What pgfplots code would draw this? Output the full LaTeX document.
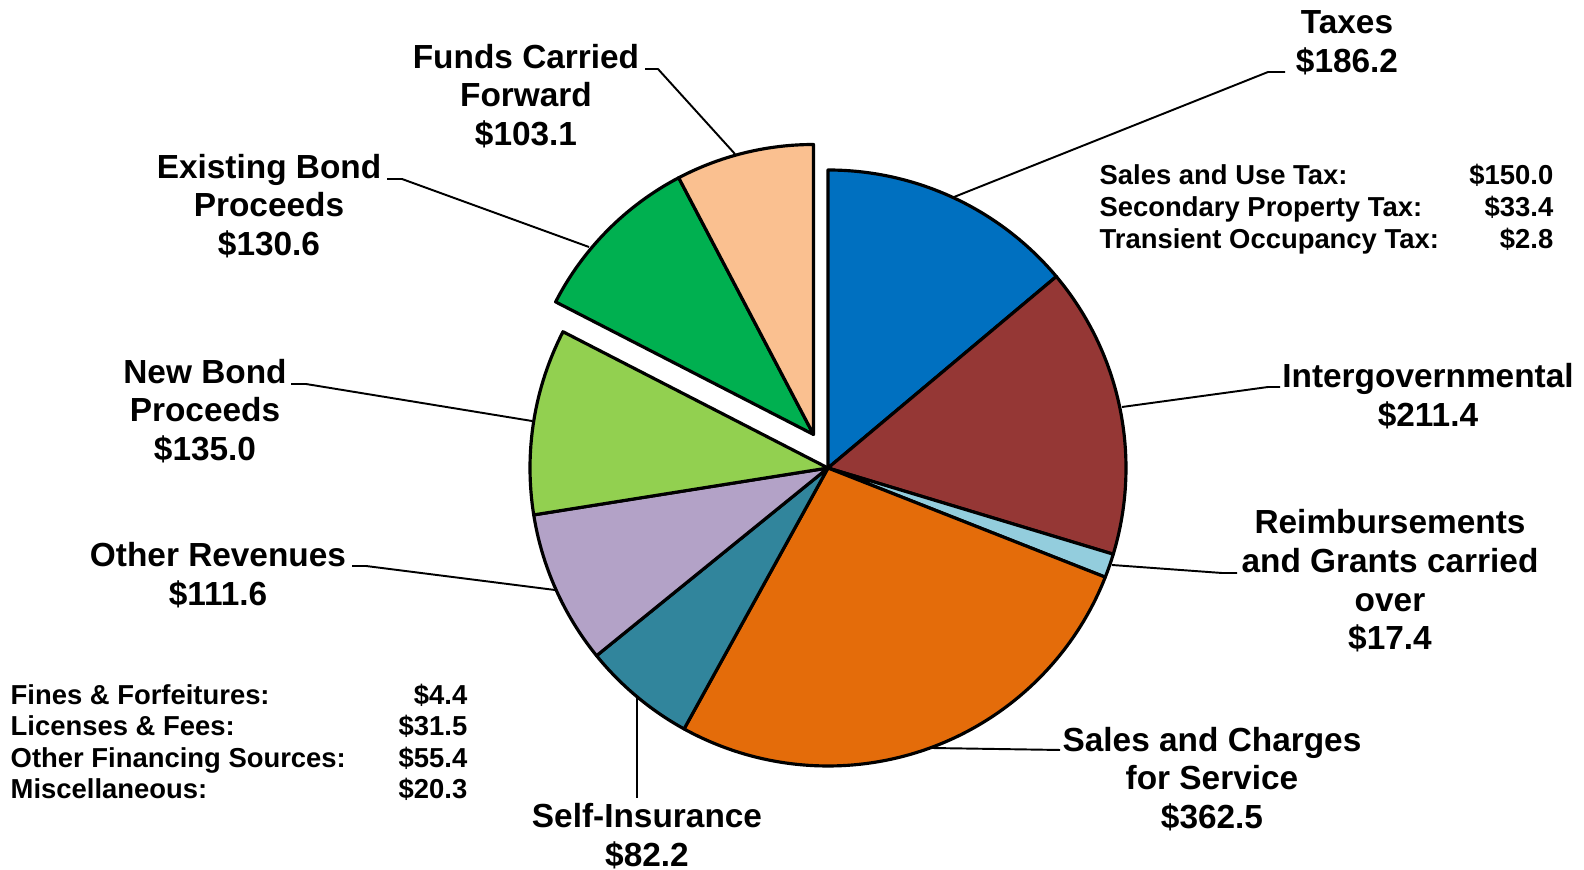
\documentclass[border=0pt]{standalone}
\usepackage{pgfplots}
\pgfplotsset{compat=1.18}
\usepackage{pgfplotstable}
\usepackage{fontspec}
\setmainfont{Liberation Sans}

\definecolor{cTaxes}{HTML}{0070C0}
\definecolor{cInter}{HTML}{953735}
\definecolor{cReimb}{HTML}{93CDDD}
\definecolor{cSales}{HTML}{E46C0A}
\definecolor{cSelf}{HTML}{31859C}
\definecolor{cOther}{HTML}{B3A2C7}
\definecolor{cNew}{HTML}{92D050}
\definecolor{cExist}{HTML}{00B050}
\definecolor{cFunds}{HTML}{FAC090}

% revenue sources, clockwise from 12 o'clock
\pgfplotstableread{
name       value  color   explode
Taxes      186.2  cTaxes  0
Intergov   211.4  cInter  0
Reimb      17.4   cReimb  0
Sales      362.5  cSales  0
SelfIns    82.2   cSelf   0
OtherRev   111.6  cOther  0
NewBond    135.0  cNew    0
ExistBond  130.6  cExist  1
Funds      103.1  cFunds  1
}\piedata

\tikzset{
  lab/.style={font=\fontsize{9.5}{11}\selectfont\bfseries, align=center, inner sep=0pt},
  sm/.style={font=\fontsize{7.8}{9}\selectfont\bfseries, inner sep=0pt},
  lead/.style={line width=0.55pt, line join=round},
}

\begin{document}%
\begin{tikzpicture}
\gdef\total{0}%
\pgfplotstableforeachcolumnelement{value}\of\piedata\as\v{%
  \pgfmathparse{\total+\v}\xdef\total{\pgfmathresult}}%
\begin{axis}[
  width=15.84cm, height=8.7cm, scale only axis,
  xmin=0, xmax=1584, ymin=0, ymax=870,
  hide axis, clip=false,
]
\pgfplotsextra{
  \gdef\cum{0}
  \foreach \i in {0,...,8}{
    \pgfplotstablegetelem{\i}{value}\of\piedata \let\v\pgfplotsretval
    \pgfplotstablegetelem{\i}{color}\of\piedata \let\col\pgfplotsretval
    \pgfplotstablegetelem{\i}{explode}\of\piedata \let\ex\pgfplotsretval
    \pgfmathsetmacro\sa{90-\cum/\total*360}
    \pgfmathparse{\cum+\v}\xdef\cum{\pgfmathresult}
    \pgfmathsetmacro\ea{90-\cum/\total*360}
    \ifnum\ex=1
      \coordinate (P) at (axis cs:813.5,435.5);\def\rr{2.90cm}
    \else
      \coordinate (P) at (axis cs:828,402);\def\rr{2.98cm}
    \fi
    \filldraw[fill=\col, draw=black, line width=0.9pt, line join=round]
      (P) -- ++(\sa:\rr) arc[start angle=\sa, end angle=\ea, radius=\rr] -- cycle;
  }
  % leader lines
  \draw[lead] (axis cs:954,673) -- (axis cs:1268,798) -- (axis cs:1285,798);
  \draw[lead] (axis cs:1122,463) -- (axis cs:1268,483) -- (axis cs:1280,483);
  \draw[lead] (axis cs:1112,305) -- (axis cs:1222,297) -- (axis cs:1237,297);
  \draw[lead] (axis cs:931,122) -- (axis cs:1060,120);
  \draw[lead] (axis cs:637,172) -- (axis cs:637,72);
  \draw[lead] (axis cs:555,280) -- (axis cs:366,304) -- (axis cs:352,304);
  \draw[lead] (axis cs:532,449) -- (axis cs:306,486) -- (axis cs:291,486);
  \draw[lead] (axis cs:589,623) -- (axis cs:402,691) -- (axis cs:387,691);
  \draw[lead] (axis cs:735,716) -- (axis cs:658,801) -- (axis cs:645,801);
  % labels
  \node[lab] at (axis cs:1347,827) {Taxes\\\$186.2};
  \node[lab] at (axis cs:1428,474) {Intergovernmental\\\$211.4};
  \node[lab] at (axis cs:1390,289) {Reimbursements\\and Grants carried\\over\\\$17.4};
  \node[lab] at (axis cs:1212,91) {Sales and Charges\\for Service\\\$362.5};
  \node[lab] at (axis cs:647,34) {Self-Insurance\\\$82.2};
  \node[lab] at (axis cs:218,295) {Other Revenues\\\$111.6};
  \node[lab] at (axis cs:205,459) {New Bond\\Proceeds\\\$135.0};
  \node[lab] at (axis cs:269,664) {Existing Bond\\Proceeds\\\$130.6};
  \node[lab] at (axis cs:526,774) {Funds Carried\\Forward\\\$103.1};
  % tax detail
  \node[sm, anchor=base west] at (axis cs:1099,686) {Sales and Use Tax:};
  \node[sm, anchor=base west] at (axis cs:1099,654) {Secondary Property Tax:};
  \node[sm, anchor=base west] at (axis cs:1099,622) {Transient Occupancy Tax:};
  \node[sm, anchor=base east] at (axis cs:1554,686) {\$150.0};
  \node[sm, anchor=base east] at (axis cs:1554,654) {\$33.4};
  \node[sm, anchor=base east] at (axis cs:1554,622) {\$2.8};
  % other revenues detail
  \node[sm, anchor=base west] at (axis cs:10,165) {Fines \& Forfeitures:};
  \node[sm, anchor=base west] at (axis cs:10,134) {Licenses \& Fees:};
  \node[sm, anchor=base west] at (axis cs:10,102) {Other Financing Sources:};
  \node[sm, anchor=base west] at (axis cs:10,71) {Miscellaneous:};
  \node[sm, anchor=base east] at (axis cs:468,165) {\$4.4};
  \node[sm, anchor=base east] at (axis cs:468,134) {\$31.5};
  \node[sm, anchor=base east] at (axis cs:468,102) {\$55.4};
  \node[sm, anchor=base east] at (axis cs:468,71) {\$20.3};
}
\end{axis}
\pgfresetboundingbox
\useasboundingbox (0,0) rectangle (15.84cm,8.7cm);
\end{tikzpicture}%
\end{document}
